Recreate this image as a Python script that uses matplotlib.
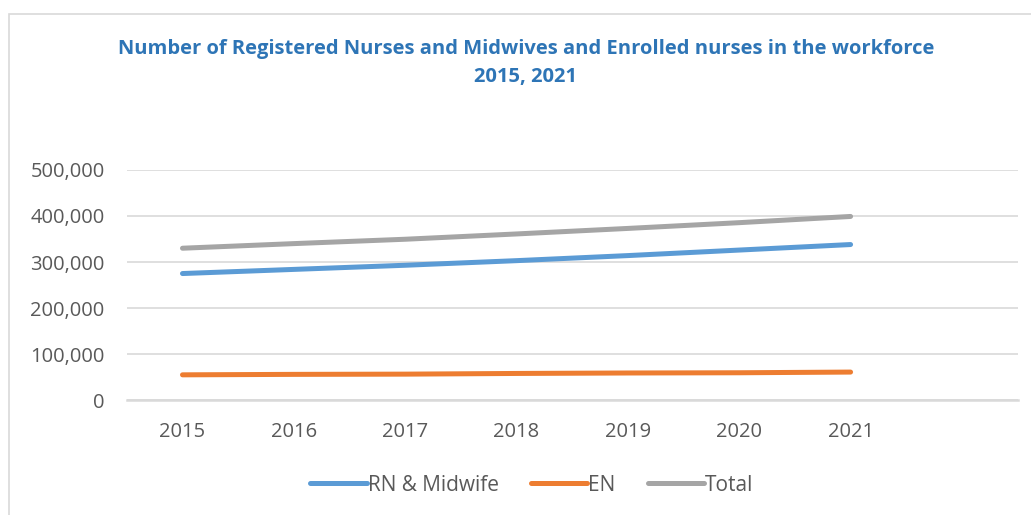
import matplotlib.pyplot as plt
from matplotlib.patches import Rectangle
from matplotlib.ticker import FuncFormatter

# values
years = ['2015', '2016', '2017', '2018', '2019', '2020', '2021']
rn_midwife = [275000, 284000, 293000, 303000, 314000, 326000, 338000]
en = [55000, 56000, 56500, 58000, 59000, 59500, 61000]
total = [330000, 340000, 349500, 361000, 373000, 385500, 399000]

series_names = ['RN & Midwife', 'EN', 'Total']
colors = ['#5B9BD5', '#ED7D31', '#A5A5A5']

plt.rcParams['font.family'] = ['Open Sans', 'DejaVu Sans']

fig = plt.figure(figsize=(10.31, 5.15), dpi=100)
ax = fig.add_axes([0.123, 0.223, 0.864, 0.447])

x = list(range(len(years)))
for vals, name, c in zip([rn_midwife, en, total], series_names, colors):
    ax.plot(x, vals, color=c, lw=3.6, solid_capstyle='round', label=name)

ax.set_xlim(-0.5, 7.5)
ax.set_ylim(0, 500000)
ax.set_xticks(x)
ax.set_xticklabels(years)
ax.set_yticks(range(0, 500001, 100000))
ax.yaxis.set_major_formatter(FuncFormatter(lambda v, p: f'{int(v):,}'))
ax.tick_params(length=0, labelsize=14.5, labelcolor='#595959')
ax.tick_params(axis='y', pad=16)
ax.tick_params(axis='x', pad=16)
ax.grid(axis='y', color='#D9D9D9', lw=1.2)
ax.set_axisbelow(True)
for s in ['top', 'right', 'left']:
    ax.spines[s].set_visible(False)
ax.spines['bottom'].set_color('#D9D9D9')
ax.spines['bottom'].set_linewidth(1.8)

fig.text(0.51, 0.878, 'Number of Registered Nurses and Midwives and Enrolled nurses in the workforce\n2015, 2021',
         ha='center', va='center', fontsize=14.5, fontweight='bold', color='#2E75B6',
         linespacing=1.55)

leg = fig.legend(loc='center', bbox_to_anchor=(0.516, 0.058), ncol=3, frameon=False,
                 fontsize=15, handlelength=2.7, handletextpad=0.05, columnspacing=1.55)
for t in leg.get_texts():
    t.set_color('#595959')

fig.patches.append(Rectangle((8.5 / 1031, -0.1), 1.2, 1.1 - 13.5 / 515, transform=fig.transFigure,
                             fill=False, edgecolor='#D9D9D9', lw=1.2))

fig.savefig('out.png', dpi=100)
